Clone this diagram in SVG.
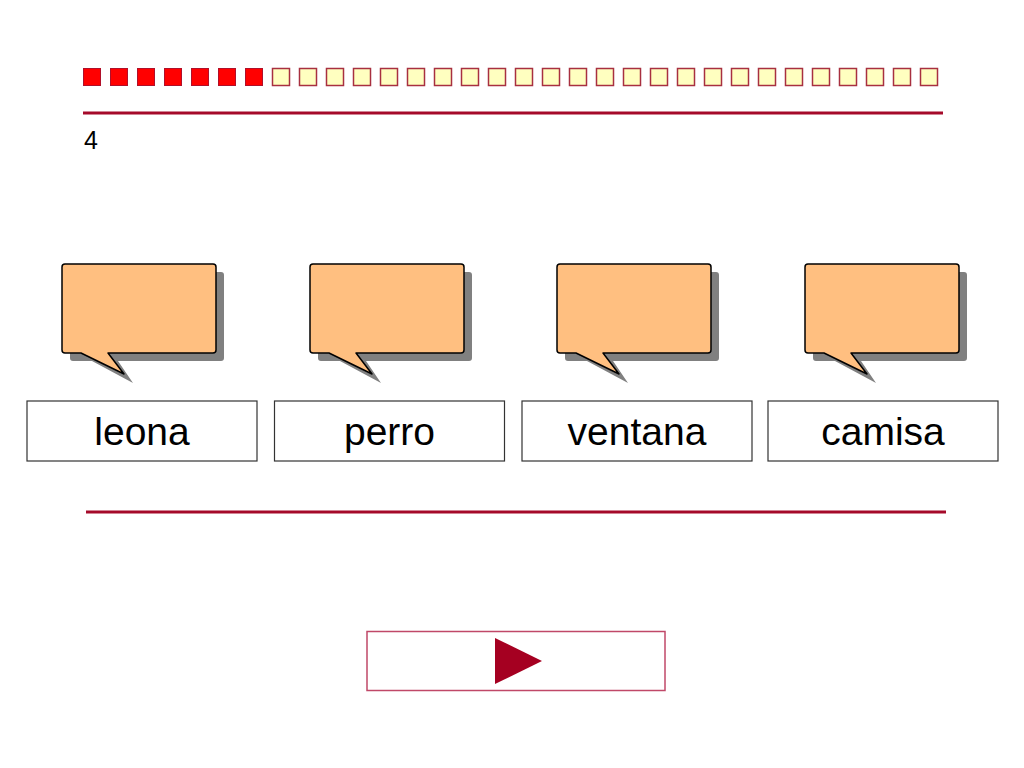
<svg xmlns="http://www.w3.org/2000/svg" width="1024" height="768" viewBox="0 0 1024 768">
<defs>
<style>
.on{fill:#ff0000;stroke:#b0102a;stroke-width:1}
.off{fill:#ffffc0;stroke:#a83040;stroke-width:1.5}
.rule{stroke:#a50a2a;stroke-width:3}
.bub{fill:#ffbf80;stroke:#000;stroke-width:1.5;stroke-linejoin:round}
.sh{fill:#808080}
.word{fill:#fff;stroke:#333;stroke-width:1.2}
.wt{font-family:"Liberation Sans",Arial,sans-serif;font-size:39px;fill:#000;text-anchor:middle}
.num{font-family:"Liberation Sans",Arial,sans-serif;font-size:25px;fill:#000}
</style>
<g id="bubble">
<path class="sh" d="M11,8 H159 Q162,8 162,11 V94 Q162,97 159,97 H56 L71,119 L30,97 H11 Q8,97 8,94 V11 Q8,8 11,8 Z"/>
<path class="bub" d="M3,0 H151 Q154,0 154,3 V86 Q154,89 151,89 H46 L62,110 L19,89 H3 Q0,89 0,86 V3 Q0,0 3,0 Z"/>
</g>
</defs>
<rect width="1024" height="768" fill="#fff"/>
<g id="progress">
<rect class="on" x="83.5" y="68.5" width="17" height="17"/>
<rect class="on" x="110.5" y="68.5" width="17" height="17"/>
<rect class="on" x="137.5" y="68.5" width="17" height="17"/>
<rect class="on" x="164.5" y="68.5" width="17" height="17"/>
<rect class="on" x="191.5" y="68.5" width="17" height="17"/>
<rect class="on" x="218.5" y="68.5" width="17" height="17"/>
<rect class="on" x="245.5" y="68.5" width="17" height="17"/>
<rect class="off" x="272.5" y="68.5" width="17" height="17"/>
<rect class="off" x="299.5" y="68.5" width="17" height="17"/>
<rect class="off" x="326.5" y="68.5" width="17" height="17"/>
<rect class="off" x="353.5" y="68.5" width="17" height="17"/>
<rect class="off" x="380.5" y="68.5" width="17" height="17"/>
<rect class="off" x="407.5" y="68.5" width="17" height="17"/>
<rect class="off" x="434.5" y="68.5" width="17" height="17"/>
<rect class="off" x="461.5" y="68.5" width="17" height="17"/>
<rect class="off" x="488.5" y="68.5" width="17" height="17"/>
<rect class="off" x="515.5" y="68.5" width="17" height="17"/>
<rect class="off" x="542.5" y="68.5" width="17" height="17"/>
<rect class="off" x="569.5" y="68.5" width="17" height="17"/>
<rect class="off" x="596.5" y="68.5" width="17" height="17"/>
<rect class="off" x="623.5" y="68.5" width="17" height="17"/>
<rect class="off" x="650.5" y="68.5" width="17" height="17"/>
<rect class="off" x="677.5" y="68.5" width="17" height="17"/>
<rect class="off" x="704.5" y="68.5" width="17" height="17"/>
<rect class="off" x="731.5" y="68.5" width="17" height="17"/>
<rect class="off" x="758.5" y="68.5" width="17" height="17"/>
<rect class="off" x="785.5" y="68.5" width="17" height="17"/>
<rect class="off" x="812.5" y="68.5" width="17" height="17"/>
<rect class="off" x="839.5" y="68.5" width="17" height="17"/>
<rect class="off" x="866.5" y="68.5" width="17" height="17"/>
<rect class="off" x="893.5" y="68.5" width="17" height="17"/>
<rect class="off" x="920.5" y="68.5" width="17" height="17"/>
</g>
<line class="rule" x1="83" y1="113" x2="943" y2="113"/>
<text class="num" x="84" y="149">4</text>
<g id="bubble1"><use href="#bubble" x="62" y="264"/></g>
<g id="bubble2"><use href="#bubble" x="310" y="264"/></g>
<g id="bubble3"><use href="#bubble" x="557" y="264"/></g>
<g id="bubble4"><use href="#bubble" x="805" y="264"/></g>
<g id="word1"><rect class="word" x="27" y="401" width="230" height="60"/><text class="wt" x="142" y="445">leona</text></g>
<g id="word2"><rect class="word" x="274.5" y="401" width="230" height="60"/><text class="wt" x="389.5" y="445">perro</text></g>
<g id="word3"><rect class="word" x="522" y="401" width="230" height="60"/><text class="wt" x="637" y="445">ventana</text></g>
<g id="word4"><rect class="word" x="768" y="401" width="230" height="60"/><text class="wt" x="883" y="445">camisa</text></g>
<line class="rule" x1="86" y1="512" x2="946" y2="512"/>
<g id="next">
<rect x="367" y="631.5" width="298" height="59" fill="#fff" stroke="#c04868" stroke-width="1.5"/>
<polygon points="495,638 542,661 495,684" fill="#a50021"/>
</g>
</svg>
